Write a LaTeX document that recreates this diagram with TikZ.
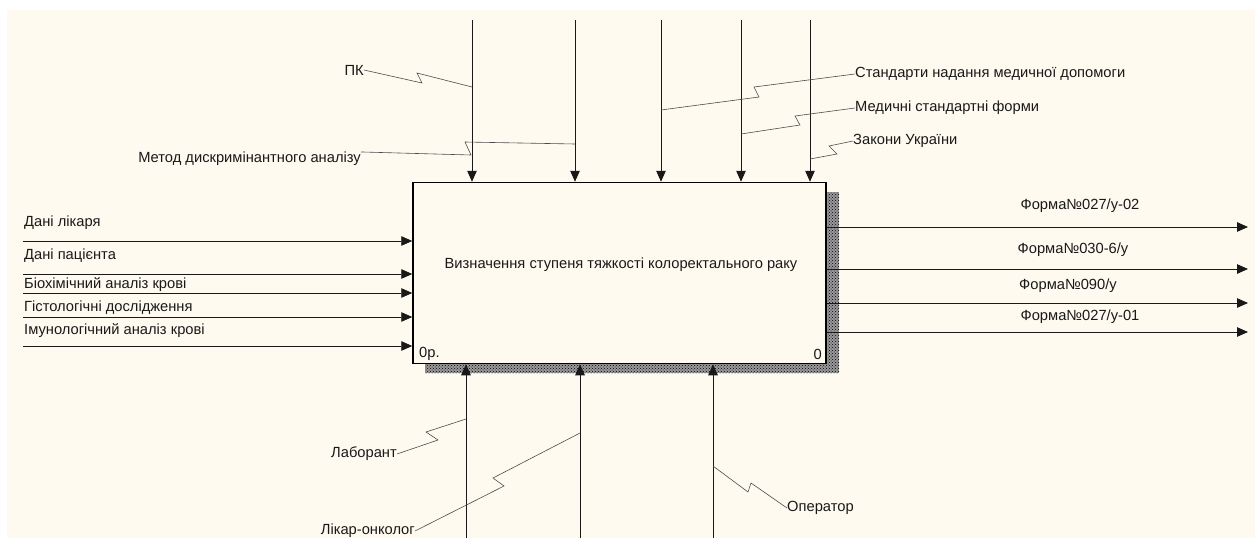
\documentclass[tikz,border=0pt]{standalone}
\usepackage{fontspec}
\setmainfont{Liberation Sans}
\usetikzlibrary{arrows.meta,patterns}
\definecolor{idefbg}{RGB}{255,250,240}

\begin{document}
\begin{tikzpicture}[x=1pt,y=-1pt,
	arr/.style={draw=black!90, line width=0.9pt, -{Triangle[length=11pt,width=9.5pt]}},
	lead/.style={draw=black!70, line width=0.6pt},
	lbl/.style={inner sep=0pt, text=black!90, font=\fontsize{14.7}{17}\selectfont},
	proc/.style={draw=black, line width=1.5pt, fill=idefbg, minimum width=413pt, minimum height=181pt, inner sep=0pt}]
	
	% --- background ---
	\useasboundingbox (0,0) rectangle (1255,538);
	\fill[white] (0,0) rectangle (1255,538);
	\fill[idefbg] (7,10) rectangle (1255,538);
	
	% --- shadow and activity box ---
	\fill[black!40] (425,192) rectangle (839,373);
	\fill[pattern=crosshatch dots, pattern color=black] (425,192) rectangle (839,373);
	\node[proc] (proc) at (619.5,273) {};
	\node[lbl] (ptitle) at (621,265) {Визначення ступеня тяжкості колоректального раку};
	\node[lbl, anchor=west] (pnode) at (419,354) {0р.};
	\node[lbl, anchor=east] (pnum) at (822,354) {0};
	
	% --- controls (top) ---
	\foreach \x [count=\i] in {472,575,661,741,810} {
		\coordinate (ctl\i) at (\x,20);
		\draw[arr] (ctl\i) -- (ctl\i |- proc.north);
	}
	
	\node[lbl, anchor=east] (pk) at (364,70) {ПК};
	\coordinate (pkj) at (472,87);
	\draw[lead] (pk.east) -- (422,83) -- (417,73) -- (pkj);
	
	\node[lbl, anchor=east] (met) at (361,159) {Метод дискримінантного аналізу};
	\coordinate (metj) at (575,144);
	\draw[lead] (met.north east) -- (471,155) -- (465,142) -- (metj);
	
	\node[lbl, anchor=west] (std) at (855,74) {Стандарти надання медичної допомоги};
	\coordinate (stdj) at (661,110);
	\draw[lead] (std.west) -- (754,87) -- (759,97) -- (stdj);
	
	\node[lbl, anchor=west] (frm) at (855,108) {Медичні стандартні форми};
	\coordinate (frmj) at (741,134);
	\draw[lead] (frm.west) -- (795,116) -- (800,125) -- (frmj);
	
	\node[lbl, anchor=west] (law) at (853,141) {Закони України};
	\coordinate (lawj) at (810,159);
	\draw[lead] (law.west) -- (829,146) -- (837,154) -- (lawj);
	
	% --- inputs (left) ---
	\foreach \y/\ty/\t [count=\i] in {241/223/Дані лікаря, 274/256/Дані пацієнта, 293/285/Біохімічний аналіз крові, 317/308/Гістологічні дослідження, 346/331/Імунологічний аналіз крові} {
		\coordinate (in\i) at (23,\y);
		\draw[arr] (in\i) -- (in\i -| proc.west);
		\node[lbl, anchor=west] (inl\i) at (24,\ty) {\t};
	}
	
	% --- outputs (right) ---
	\coordinate (out1) at (1248,227);
	\coordinate (out2) at (1248,269);
	\coordinate (out3) at (1248,303);
	\coordinate (out4) at (1248,332);
	\foreach \i in {1,...,4} {
		\draw[arr] (out\i -| proc.east) -- (out\i);
	}
	\node[lbl] (outl1) at (1080,206) {Форма№027/у-02};
	\node[lbl] (outl2) at (1073,250) {Форма№030-6/у};
	\node[lbl] (outl3) at (1068,286) {Форма№090/у};
	\node[lbl] (outl4) at (1080,317) {Форма№027/у-01};
	
	% --- mechanisms (bottom) ---
	\foreach \x [count=\i] in {466,580,713} {
		\coordinate (mch\i) at (\x,538);
		\draw[arr] (mch\i) -- (mch\i |- proc.south);
	}
	
	\node[lbl, anchor=east] (lab) at (397,454) {Лаборант};
	\coordinate (labj) at (466,419);
	\draw[lead] (lab.east) -- (438,440) -- (426,432) -- (labj);
	
	\node[lbl, anchor=east] (onc) at (415,531) {Лікар-онколог};
	\coordinate (oncj) at (580,433);
	\draw[lead] (onc.east) -- (504,486) -- (493,478) -- (oncj);
	
	\node[lbl, anchor=west] (opr) at (787,508) {Оператор};
	\coordinate (oprj) at (713,466);
	\draw[lead] (opr.west) -- (751,483) -- (748,492) -- (oprj);
	
\end{tikzpicture}
\end{document}
